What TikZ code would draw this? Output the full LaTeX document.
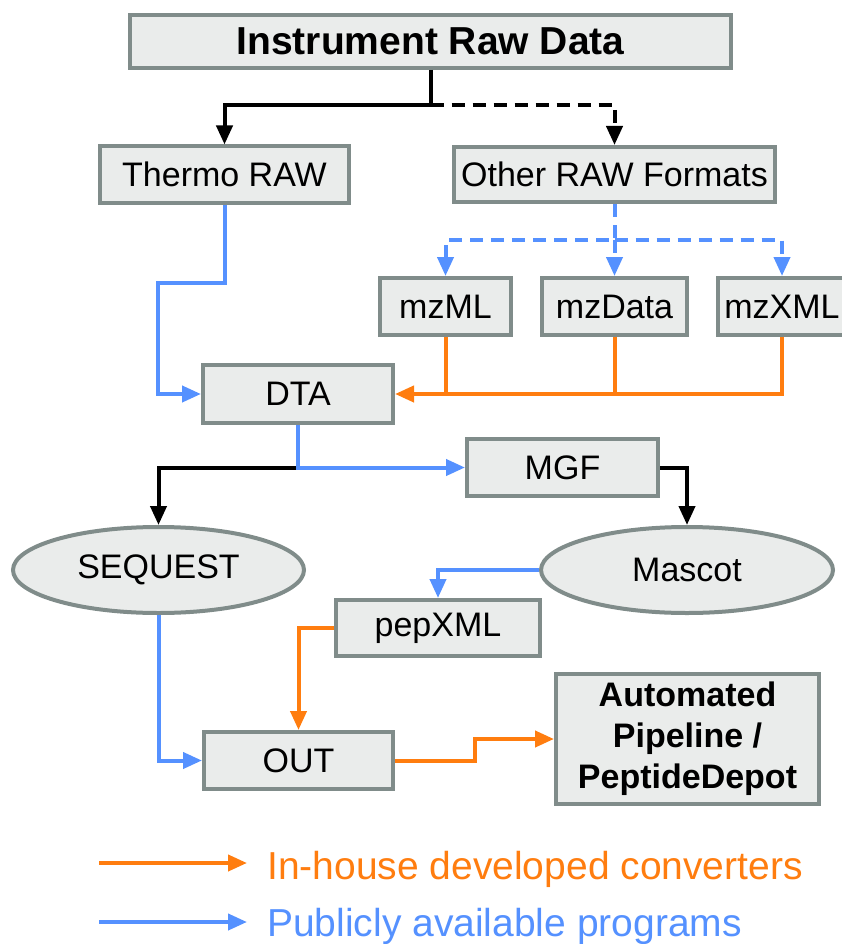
\documentclass[tikz,border=0pt]{standalone}
\usepackage{fontspec}
\setmainfont{Liberation Sans}
\usetikzlibrary{arrows.meta,shapes.geometric,calc}
\definecolor{bordergray}{RGB}{128,140,138}
\definecolor{boxfill}{RGB}{234,236,235}
\definecolor{convorange}{RGB}{255,125,15}
\definecolor{pubblue}{RGB}{85,145,255}
\tikzset{
  box/.style={draw=bordergray, line width=4pt, fill=boxfill, inner sep=0pt, text=black,
              font=\fontsize{34}{41}\selectfont},
  boxr/.style={box, rectangle},
  oval/.style={box, ellipse},
  conn/.style={line width=4pt, -{Triangle[length=19pt,width=16pt]}},
  plain/.style={line width=4pt},
  blk/.style={draw=black},
  org/.style={draw=convorange},
  blu/.style={draw=pubblue},
  dashpat/.style={dash pattern=on 13pt off 8pt},
  legendtext/.style={anchor=base west, inner sep=0pt, font=\fontsize{39}{46}\selectfont}
}
\begin{document}
\begin{tikzpicture}[x=1pt,y=-1pt]
\useasboundingbox (0,0) rectangle (841,944);

% nodes
\node[boxr, minimum width=601pt, minimum height=53pt, font=\fontsize{39}{46}\selectfont\bfseries] (raw) at (430.5,41.5) {Instrument Raw Data};
\node[boxr, minimum width=249pt, minimum height=56pt] (thermo) at (224.5,174.5) {Thermo RAW};
\node[boxr, minimum width=321pt, minimum height=55pt] (other) at (614.5,174.5) {Other RAW Formats};
\node[boxr, minimum width=131pt, minimum height=57pt] (mzml) at (445.5,306.5) {mzML};
\node[boxr, minimum width=145pt, minimum height=57pt] (mzdata) at (614.5,306.5) {mzData};
\node[boxr, minimum width=128pt, minimum height=57pt] (mzxml) at (782,306.5) {mzXML};
\node[boxr, minimum width=190pt, minimum height=58pt] (dta) at (298,394) {DTA};
\node[boxr, minimum width=191pt, minimum height=57pt] (mgf) at (562.5,467.5) {MGF};
\node[oval, minimum width=291pt, minimum height=86pt] (seq) at (158.5,570) {SEQUEST};
\node[oval, minimum width=292pt, minimum height=86pt] (mascot) at (687,570) {Mascot};
\node[boxr, minimum width=204pt, minimum height=56pt] (pep) at (438,628) {pepXML};
\node[boxr, minimum width=189pt, minimum height=57pt] (out) at (298.5,760.5) {OUT};
\node[boxr, minimum width=263pt, minimum height=130pt, align=center, font=\fontsize{34}{41}\selectfont\bfseries] (auto) at (687.5,739) {Automated\\Pipeline /\\PeptideDepot};

% raw data split
\coordinate (r1) at ($(raw.south)+(0,35)$);
\draw[conn,blk,dashpat] (r1) -| (other.north);
\draw[conn,blk] (raw.south) -- (r1) -| (thermo.north);

% other -> mz formats
\coordinate (o1) at ($(other.south)+(0,36)$);
\draw[conn,blu,dashpat] (other.south) -- (o1) -| (mzml.north);
\draw[conn,blu,dashpat] (o1) -| (mzxml.north);
\draw[conn,blu,dashpat] (o1) -- (mzdata.north);

% thermo -> DTA
\coordinate (t1) at (158,283);
\draw[conn,blu] (thermo.south) |- (t1) |- (dta.west);

% mz -> DTA
\draw[conn,org] (mzxml.south) |- (dta.east);
\draw[plain,org] (mzml.south) -- (mzml.south |- dta.east);
\draw[plain,org] (mzdata.south) -- (mzdata.south |- dta.east);

% DTA -> SEQUEST / MGF
\coordinate (d1) at (dta.south |- mgf.west);
\draw[conn,blk] (d1) -| (seq.north);
\draw[conn,blu] (dta.south) |- (mgf.west);

% MGF -> Mascot
\draw[conn,blk] (mgf.east) -| (mascot.north);

% Mascot -> pepXML
\draw[conn,blu] (mascot.west) -| (pep.north);

% pepXML -> OUT
\draw[conn,org] (pep.west) -| (out.north);

% SEQUEST -> OUT
\draw[conn,blu] (seq.south) |- (out.west);

% OUT -> Automated
\coordinate (x1) at (475,0);
\draw[conn,org] (out.east) -| (x1 |- auto.west) -- (auto.west);

% legend
\coordinate (la) at (99,863);
\coordinate (lb) at (247,863);
\coordinate (lc) at (99,922);
\coordinate (ld) at (247,922);
\draw[conn,org] (la) -- (lb);
\draw[conn,blu] (lc) -- (ld);
\node[legendtext, text=convorange] (lt1) at (267,879) {In-house developed converters};
\node[legendtext, text=pubblue] (lt2) at (267,936) {Publicly available programs};
\end{tikzpicture}
\end{document}
